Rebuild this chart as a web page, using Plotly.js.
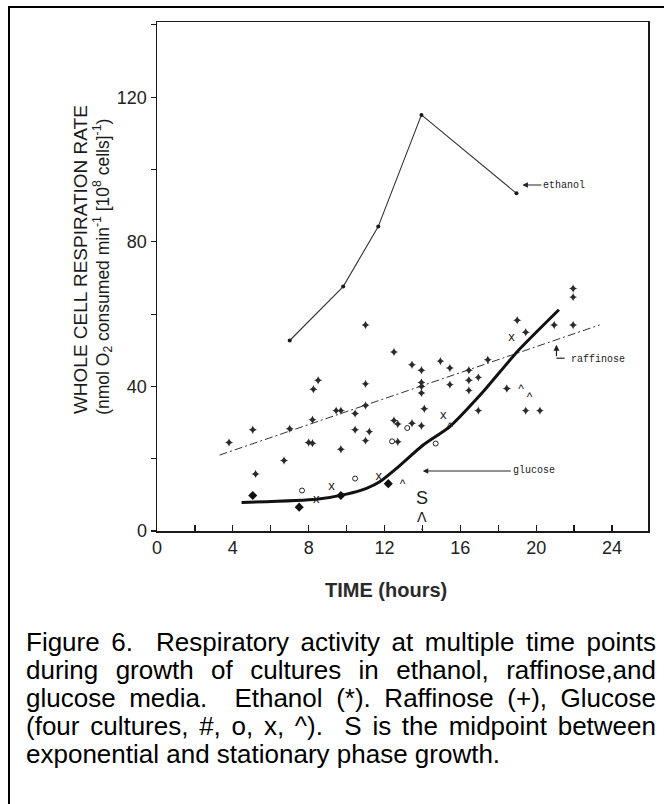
<!DOCTYPE html>
<html>
<head>
<meta charset="utf-8">
<script src="https://cdn.plot.ly/plotly-3.0.1.min.js"></script>
<style>
  html, body { margin: 0; padding: 0; background: #fff; }
  #wrap { position: relative; width: 664px; height: 804px; overflow: hidden; }
  #chart { position: absolute; left: 0; top: 0; width: 664px; height: 804px; }
  #frame { position: absolute; left: 8px; top: 6px; right: -10px; bottom: -10px;
           border-left: 2px solid #000; border-top: 2px solid #000; pointer-events: none; }
  #caption { position: absolute; left: 26px; top: 628px; width: 630px;
             font-family: "Liberation Sans", Arial, sans-serif; font-size: 26px;
             line-height: 28px; color: #000; }
  #caption .j { display: block; text-align: justify; text-align-last: justify; white-space: nowrap; }
  #caption .l { display: block; text-align: left; white-space: nowrap; }
</style>
</head>
<body>
<div id="wrap">
  <div id="chart"></div>
  <div id="frame"></div>
  <div id="caption">
    <span class="j">Figure 6.&nbsp; Respiratory activity at multiple time points</span>
    <span class="j">during growth of cultures in ethanol, raffinose,and</span>
    <span class="j">glucose media.&nbsp; Ethanol (*). Raffinose (+), Glucose</span>
    <span class="j">(four cultures, #, o, x, ^).&nbsp; S is the midpoint between</span>
    <span class="l">exponential and stationary phase growth.</span>
  </div>
</div>
<script>
// Ethanol culture (*)
const ethanolTime = [7.0, 9.82, 11.67, 13.95, 18.96];
const ethanolRate = [52.7, 67.6, 84.2, 115.1, 93.4];

// Raffinose culture (+)
const raffinoseTime = [3.8, 5.05, 5.2, 6.7, 7.0, 8.0, 8.2, 8.25, 8.5, 8.2,
  9.45, 9.7, 9.7, 10.45, 10.45, 11.0, 11.0, 11.0, 11.0, 11.2,
  12.5, 12.5, 12.7, 12.7, 13.45, 13.45, 13.95, 13.95, 13.95, 13.95,
  14.1, 13.95, 14.95, 15.45, 15.45, 16.45, 16.45, 16.45, 16.95, 16.95,
  17.45, 18.45, 19.0, 19.45, 19.45, 20.2, 20.95, 21.95, 21.95, 21.95];
const raffinoseRate = [24.5, 28.0, 15.8, 19.5, 28.3, 24.5, 24.3, 39.2, 41.7, 30.8,
  33.3, 33.3, 22.6, 32.5, 28.0, 57.0, 40.7, 34.7, 25.0, 27.5,
  49.5, 30.6, 29.6, 24.7, 46.0, 29.8, 44.5, 41.1, 40.0, 38.2,
  33.8, 29.1, 47.0, 45.1, 40.5, 44.5, 41.7, 38.9, 42.5, 33.3,
  47.4, 39.4, 58.3, 55.0, 33.3, 33.3, 57.0, 57.0, 64.7, 67.1];
// Raffinose trend line (dash-dot)
const raffinoseTrendTime = [3.3, 23.35];
const raffinoseTrendRate = [21.0, 57.0];

// Glucose cultures: #, o, x, ^
const glucoseHashTime = [5.05, 7.5, 9.7, 12.2];
const glucoseHashRate = [9.8, 6.6, 9.8, 13.1];
const glucoseCircleTime = [7.65, 10.45, 12.4, 13.2, 14.7];
const glucoseCircleRate = [11.2, 14.5, 24.8, 28.5, 24.2];
const glucoseCrossTime = [8.4, 9.2, 11.7, 15.1, 18.7];
const glucoseCrossRate = [8.6, 12.2, 14.9, 31.8, 53.5];
const glucoseCaretTime = [12.95, 15.45, 19.2, 19.65];
const glucoseCaretRate = [12.8, 28.4, 39.0, 36.9];
// Glucose fitted curve (heavy line)
const glucoseCurveTime = [4.46, 8.42, 10.0, 11.05, 11.75, 12.63, 14.04, 15.45, 17.2, 19.0, 21.2];
const glucoseCurveRate = [7.9, 8.8, 10.2, 11.8, 13.6, 17.3, 23.8, 28.9, 38.5, 49.6, 61.2];

// Axis ticks (labelled); unlabelled ticks come from the minor tick step
const xTickVals = [0, 4, 8, 12, 16, 20, 24];
const xTickText = ['0', '4', '8', '12', '16', '20', '24'];
const yTickVals = [0, 40, 80, 120];
const yTickText = ['0', '40', '80', '120'];

const ink = '#1a1a1a';
const typeFont = 'Liberation Sans, Arial, sans-serif';
const monoFont = 'Liberation Mono, DejaVu Sans Mono, monospace';

const traces = [
  {
    x: raffinoseTrendTime, y: raffinoseTrendRate, mode: 'lines',
    line: { color: '#333', width: 1, dash: '8px,3px,2px,3px' }, hoverinfo: 'skip'
  },
  {
    x: glucoseCurveTime, y: glucoseCurveRate, mode: 'lines',
    line: { color: '#111', width: 3, shape: 'spline', smoothing: 0.6 }, hoverinfo: 'skip'
  },
  {
    x: ethanolTime, y: ethanolRate, mode: 'lines+markers', name: 'ethanol',
    line: { color: '#333', width: 1.1 },
    marker: { symbol: 'circle', size: 4, color: ink }
  },
  {
    x: raffinoseTime, y: raffinoseRate, mode: 'markers', name: 'raffinose',
    marker: { symbol: 'star-diamond', size: 6, color: '#2a2a2a' }
  },
  {
    x: glucoseHashTime, y: glucoseHashRate, mode: 'markers', name: 'glucose #',
    marker: { symbol: 'diamond', size: 7, color: '#111' }
  },
  {
    x: glucoseCircleTime, y: glucoseCircleRate, mode: 'markers', name: 'glucose o',
    marker: { symbol: 'circle-open', size: 5, color: '#222', line: { width: 1 } }
  },
  {
    x: glucoseCrossTime, y: glucoseCrossRate, mode: 'text', name: 'glucose x',
    text: glucoseCrossTime.map(() => 'x'),
    textfont: { family: typeFont, size: 13, color: '#222' }
  },
  {
    x: glucoseCaretTime, y: glucoseCaretRate, mode: 'text', name: 'glucose ^',
    text: glucoseCaretTime.map(() => '^'),
    textfont: { family: typeFont, size: 12, color: '#222' }
  }
];

const layout = {
  width: 664, height: 804,
  margin: { l: 157, r: 16, t: 22, b: 273 },
  paper_bgcolor: '#fff', plot_bgcolor: '#fff',
  showlegend: false,
  font: { family: typeFont, color: ink },
  xaxis: {
    range: [0, 25.9], showgrid: false, zeroline: false,
    showline: true, linecolor: ink, linewidth: 1.5, mirror: true,
    tickvals: xTickVals, ticktext: xTickText,
    ticks: 'inside', ticklen: 6, tickwidth: 1.2, tickcolor: ink,
    minor: { dtick: 2, tick0: 0, ticks: 'inside', ticklen: 6, tickwidth: 1.2, tickcolor: ink, showgrid: false },
    tickfont: { family: typeFont, size: 18, color: '#222' }
  },
  yaxis: {
    range: [0, 140.8], showgrid: false, zeroline: false,
    showline: true, linecolor: ink, linewidth: 1.5, mirror: true,
    tickvals: yTickVals, ticktext: yTickText,
    ticks: 'outside', ticklen: 5, tickwidth: 1.2, tickcolor: ink,
    minor: { dtick: 20, tick0: 0, ticks: 'outside', ticklen: 5, tickwidth: 1.2, tickcolor: ink, showgrid: false },
    tickfont: { family: typeFont, size: 18, color: '#222' }
  },
  shapes: [
    // foot of the raffinose pointer
    { type: 'line', xref: 'x', yref: 'y', x0: 21.07, x1: 21.5, y0: 47.8, y1: 47.8,
      line: { color: '#222', width: 1.2 } }
  ],
  annotations: [
    { xref: 'paper', yref: 'paper', x: -0.157, y: 0.534, xanchor: 'center', yanchor: 'middle',
      textangle: -90, text: 'WHOLE CELL RESPIRATION RATE', showarrow: false,
      font: { family: typeFont, size: 19, color: ink } },
    { xref: 'paper', yref: 'paper', x: -0.110, y: 0.519, xanchor: 'center', yanchor: 'middle',
      textangle: -90,
      text: '(nmol O<sub>2</sub> consumed min<sup>-1</sup> [10<sup>8</sup> cells]<sup>-1</sup>)',
      showarrow: false, font: { family: typeFont, size: 17.5, color: ink } },
    { xref: 'paper', yref: 'paper', x: 0.466, y: -0.116, xanchor: 'center', yanchor: 'middle',
      text: 'TIME (hours)', showarrow: false,
      font: { family: typeFont, size: 20, weight: 'bold', color: '#2a2a2a' } },
    // curve labels
    { xref: 'x', yref: 'y', x: 19.22, y: 95.7, ax: 20, ay: 0,
      text: 'ethanol', xanchor: 'left', showarrow: true,
      arrowhead: 2, arrowsize: 1, arrowwidth: 1.1, arrowcolor: '#222', standoff: 1,
      font: { family: monoFont, size: 10, color: '#222' } },
    { xref: 'x', yref: 'y', x: 14.02, y: 16.6, ax: 88, ay: 0,
      text: 'glucose', xanchor: 'left', showarrow: true,
      arrowhead: 2, arrowsize: 1, arrowwidth: 1.1, arrowcolor: '#222',
      font: { family: monoFont, size: 10, color: '#222' } },
    { xref: 'x', yref: 'y', x: 21.07, y: 51.5, ax: 0, ay: 13, text: '',
      showarrow: true, arrowhead: 2, arrowsize: 1, arrowwidth: 1.2, arrowcolor: '#222' },
    { xref: 'x', yref: 'y', x: 21.75, y: 47.5, text: 'raffinose', xanchor: 'left',
      showarrow: false, font: { family: monoFont, size: 10, color: '#222' } },
    // S marker: midpoint between exponential and stationary phase
    { xref: 'x', yref: 'y', x: 14, y: 9.2, text: 'S', showarrow: false,
      font: { family: typeFont, size: 18, color: ink } },
    { xref: 'x', yref: 'y', x: 14, y: 3.9, text: 'Λ', showarrow: false,
      font: { family: 'DejaVu Sans, sans-serif', size: 14, color: ink } },
    { xref: 'x', yref: 'y', x: 14, y: 0.55, text: '•', showarrow: false,
      font: { family: typeFont, size: 6, color: ink } }
  ]
};

Plotly.newPlot('chart', traces, layout, { staticPlot: true, displayModeBar: false });
</script>
</body>
</html>
